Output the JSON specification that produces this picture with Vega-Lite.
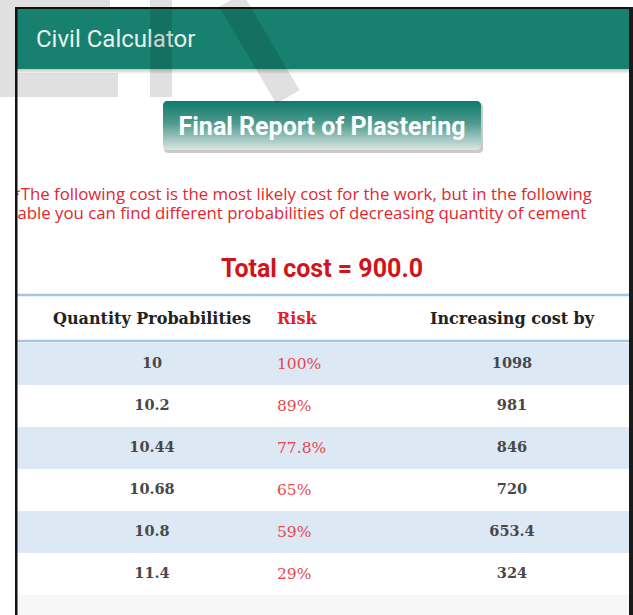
{
  "$schema": "https://vega.github.io/schema/vega-lite/v6.json",
  "width": 633,
  "height": 615,
  "padding": 0,
  "autosize": {"type": "none"},
  "background": "#ffffff",
  "config": {"view": {"stroke": null}, "axis": {"disable": true}},
  "datasets": {
    "table": [
      {"row": 1, "quantity": "10", "risk": "100%", "cost": "1098"},
      {"row": 2, "quantity": "10.2", "risk": "89%", "cost": "981"},
      {"row": 3, "quantity": "10.44", "risk": "77.8%", "cost": "846"},
      {"row": 4, "quantity": "10.68", "risk": "65%", "cost": "720"},
      {"row": 5, "quantity": "10.8", "risk": "59%", "cost": "653.4"},
      {"row": 6, "quantity": "11.4", "risk": "29%", "cost": "324"}
    ],
    "one": [{}]
  },
  "layer": [
    {
      "data": {"name": "one"},
      "mark": {"type": "rect", "fill": "#ffffff"},
      "encoding": {
        "x": {"datum": 0, "type": "quantitative", "scale": {"domain": [0, 633], "nice": false, "zero": false}},
        "x2": {"datum": 633},
        "y": {"datum": -7.66667, "type": "quantitative", "scale": {"domain": [-7.66667, 6.97619], "reverse": true, "nice": false, "zero": false}},
        "y2": {"datum": 6.97619}
      }
    },
    {
      "data": {"name": "one"},
      "mark": {"type": "rect", "fill": {"gradient": "linear", "x1": 0, "y1": 0, "x2": 0, "y2": 1, "stops": [{"offset": 0, "color": "#c4c4c4"}, {"offset": 1, "color": "#ffffff"}]}},
      "encoding": {"x": {"datum": 17}, "x2": {"datum": 629}, "y": {"datum": -6.02381}, "y2": {"datum": -5.90476}}
    },
    {
      "data": {"name": "one"},
      "mark": {"type": "rect", "fill": "#17806f"},
      "encoding": {"x": {"datum": 17}, "x2": {"datum": 629}, "y": {"datum": -7.45238}, "y2": {"datum": -6.02381}}
    },
    {
      "data": {"name": "one"},
      "mark": {"type": "text", "text": "Civil Calculator", "font": "Roboto", "fontSize": 24, "color": "#e8f1ee", "align": "left", "baseline": "middle"},
      "encoding": {"x": {"datum": 36}, "y": {"datum": -6.71429}}
    },
    {
      "data": {"name": "one"},
      "mark": {"type": "rect", "fill": "#bcbcbc", "cornerRadius": 4, "opacity": 0.8},
      "encoding": {"x": {"datum": 164}, "x2": {"datum": 483}, "y": {"datum": -5.21429}, "y2": {"datum": -4.02381}}
    },
    {
      "data": {"name": "one"},
      "mark": {"type": "rect", "cornerRadius": 4, "fill": {"gradient": "linear", "x1": 0, "y1": 0, "x2": 0, "y2": 1, "stops": [{"offset": 0, "color": "#107a6a"}, {"offset": 0.45, "color": "#4d9a8e"}, {"offset": 1, "color": "#dbe6e4"}]}},
      "encoding": {"x": {"datum": 163}, "x2": {"datum": 481}, "y": {"datum": -5.2619}, "y2": {"datum": -4.09524}}
    },
    {
      "data": {"name": "one"},
      "mark": {"type": "text", "text": "Final Report of Plastering", "font": "Roboto", "fontWeight": "bold", "fontSize": 25, "color": "#ffffff", "align": "center", "baseline": "middle"},
      "encoding": {"x": {"datum": 322}, "y": {"datum": -4.64286}}
    },
    {
      "data": {"name": "one"},
      "mark": {"type": "text", "text": ["*The following cost is the most likely cost for the work, but in the following", "table you can find different probabilities of decreasing quantity of cement"], "lineHeight": 19, "font": "Open Sans", "fontSize": 16.8, "color": "#e2262d", "align": "left", "baseline": "middle"},
      "encoding": {"x": {"datum": 11.5}, "y": {"datum": -3.03571}}
    },
    {
      "data": {"name": "one"},
      "mark": {"type": "text", "text": "Total cost = 900.0", "font": "Roboto", "fontWeight": "bold", "fontSize": 25, "color": "#d2131a", "align": "center", "baseline": "middle"},
      "encoding": {"x": {"datum": 322}, "y": {"datum": -1.2619}}
    },
    {
      "data": {"name": "table"},
      "transform": [{"filter": "datum.row % 2 === 1"}],
      "mark": {"type": "rect", "fill": "#dde8f5", "yOffset": -21, "y2Offset": 21},
      "encoding": {"x": {"datum": 17}, "x2": {"datum": 629}, "y": {"field": "row", "type": "quantitative"}, "y2": {"field": "row"}}
    },
    {
      "data": {"name": "one"},
      "mark": {"type": "rect", "fill": "#f7f7f7"},
      "encoding": {"x": {"datum": 17}, "x2": {"datum": 629}, "y": {"datum": 6.5}, "y2": {"datum": 6.97619}}
    },
    {
      "data": {"name": "one"},
      "mark": {"type": "rule", "stroke": "#a6c4e7", "strokeWidth": 2.5},
      "encoding": {"x": {"datum": 17}, "x2": {"datum": 629}, "y": {"datum": -0.64286}}
    },
    {
      "data": {"name": "one"},
      "mark": {"type": "rule", "stroke": "#a6c4e7", "strokeWidth": 2.5},
      "encoding": {"x": {"datum": 17}, "x2": {"datum": 629}, "y": {"datum": 0.45238}}
    },
    {
      "data": {"name": "one"},
      "mark": {"type": "text", "text": "Quantity Probabilities", "font": "DejaVu Serif", "fontWeight": "bold", "fontSize": 16, "color": "#222222", "align": "center", "baseline": "middle"},
      "encoding": {"x": {"datum": 152}, "y": {"datum": -0.07143}}
    },
    {
      "data": {"name": "one"},
      "mark": {"type": "text", "text": "Risk", "font": "DejaVu Serif", "fontWeight": "bold", "fontSize": 16, "color": "#e3202a", "align": "left", "baseline": "middle"},
      "encoding": {"x": {"datum": 277}, "y": {"datum": -0.07143}}
    },
    {
      "data": {"name": "one"},
      "mark": {"type": "text", "text": "Increasing cost by", "font": "DejaVu Serif", "fontWeight": "bold", "fontSize": 16, "color": "#222222", "align": "center", "baseline": "middle"},
      "encoding": {"x": {"datum": 512}, "y": {"datum": -0.07143}}
    },
    {
      "data": {"name": "table"},
      "mark": {"type": "text", "font": "DejaVu Serif", "fontSize": 14.5, "fontWeight": "bold", "color": "#484848", "align": "center", "baseline": "middle"},
      "encoding": {"x": {"datum": 152}, "y": {"field": "row", "type": "quantitative"}, "text": {"field": "quantity"}}
    },
    {
      "data": {"name": "table"},
      "mark": {"type": "text", "font": "DejaVu Serif", "fontSize": 15.5, "color": "#e5474e", "align": "left", "baseline": "middle"},
      "encoding": {"x": {"datum": 277}, "y": {"field": "row", "type": "quantitative"}, "text": {"field": "risk"}}
    },
    {
      "data": {"name": "table"},
      "mark": {"type": "text", "font": "DejaVu Serif", "fontSize": 14.5, "fontWeight": "bold", "color": "#484848", "align": "center", "baseline": "middle"},
      "encoding": {"x": {"datum": 512}, "y": {"field": "row", "type": "quantitative"}, "text": {"field": "cost"}}
    },
    {
      "data": {"name": "one"},
      "mark": {"type": "rect", "fill": "#000000", "opacity": 0.12},
      "encoding": {"x": {"datum": 0}, "x2": {"datum": 15}, "y": {"datum": -7.66667}, "y2": {"datum": -5.35714}}
    },
    {
      "data": {"name": "one"},
      "mark": {"type": "rect", "fill": "#000000", "opacity": 0.12},
      "encoding": {"x": {"datum": 15}, "x2": {"datum": 110}, "y": {"datum": -7.66667}, "y2": {"datum": -7.5}}
    },
    {
      "data": {"name": "one"},
      "mark": {"type": "rect", "fill": "#000000", "opacity": 0.12},
      "encoding": {"x": {"datum": 17}, "x2": {"datum": 118}, "y": {"datum": -5.92857}, "y2": {"datum": -5.35714}}
    },
    {
      "data": {"name": "one"},
      "mark": {"type": "rect", "fill": "#000000", "opacity": 0.12},
      "encoding": {"x": {"datum": 150}, "x2": {"datum": 172}, "y": {"datum": -7.66667}, "y2": {"datum": -5.35714}}
    },
    {
      "data": {"name": "one"},
      "mark": {"type": "rule", "stroke": "#000000", "strokeWidth": 27, "strokeCap": "butt", "opacity": 0.12},
      "encoding": {"x": {"datum": 231}, "x2": {"datum": 288}, "y": {"datum": -7.66667}, "y2": {"datum": -5.35714}}
    },
    {
      "data": {"name": "one"},
      "mark": {"type": "rect", "fill": "#ffffff"},
      "encoding": {"x": {"datum": 0}, "x2": {"datum": 15}, "y": {"datum": -3.5}, "y2": {"datum": -2.2}}
    },
    {
      "data": {"name": "one"},
      "mark": {"type": "rect", "fill": "#111111"},
      "encoding": {"x": {"datum": 15}, "x2": {"datum": 633}, "y": {"datum": -7.5}, "y2": {"datum": -7.45238}}
    },
    {
      "data": {"name": "one"},
      "mark": {"type": "rect", "fill": "#111111"},
      "encoding": {"x": {"datum": 15}, "x2": {"datum": 17.5}, "y": {"datum": -7.5}, "y2": {"datum": 6.97619}}
    },
    {
      "data": {"name": "one"},
      "mark": {"type": "rect", "fill": "#1a1a1a"},
      "encoding": {"x": {"datum": 629}, "x2": {"datum": 633}, "y": {"datum": -7.5}, "y2": {"datum": 6.97619}}
    }
  ]
}
